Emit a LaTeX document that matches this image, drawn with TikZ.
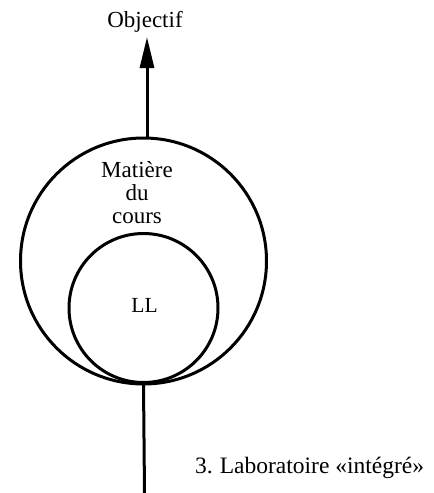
\documentclass[tikz,border=0pt]{standalone}
\usepackage{fontspec}
\setmainfont{Liberation Serif}
\usetikzlibrary{arrows.meta}
\begin{document}
\begin{tikzpicture}[x=1pt,y=-1pt,
  ring/.style={circle, draw=black, line width=3pt, inner sep=0pt},
  conn/.style={draw=black, line width=3pt},
  lbl/.style={inner sep=0pt, text=black}]
\useasboundingbox (0,0) rectangle (434,493);
\node[ring, minimum size=246pt] (big) at (143.5,261) {};
\node[ring, minimum size=149pt] (small) at (143.5,308) {};
\node[lbl, anchor=base, align=center, font=\fontsize{23}{23}\selectfont] (mat) at (137,223) {Matière\\du\\cours};
\node[lbl, anchor=base, font=\fontsize{21.5}{23}\selectfont] (ll) at (144.5,312) {LL};
\node[lbl, anchor=base, font=\fontsize{23}{25}\selectfont] (obj) at (145,27) {Objectif};
\coordinate (tip) at (147,37);
\coordinate (bot) at (144.5,493);
\draw[conn, -{Triangle[length=31pt,width=14pt]}] (tip |- big.north) -- (tip);
\draw[conn] (small.south) -- (bot);
\node[lbl, anchor=base west, font=\fontsize{23.5}{26}\selectfont] (cap) at (195,473) {3.\hspace{0.3em}Laboratoire «intégré»};
\end{tikzpicture}
\end{document}
